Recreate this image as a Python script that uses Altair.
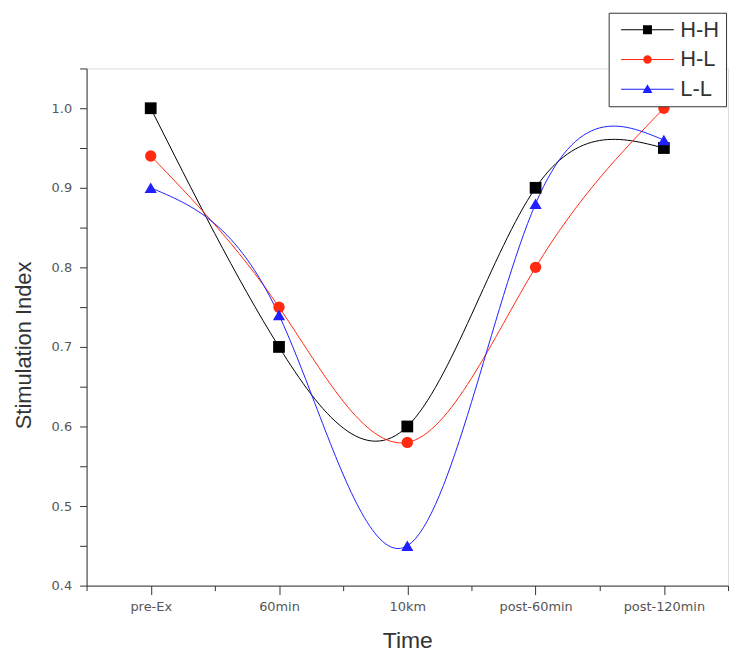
import altair as alt
import pandas as pd

times = ["pre-Ex", "60min", "10km", "post-60min", "post-120min"]
series = ["H-H", "H-L", "L-L"]
hh = [1.00, 0.70, 0.60, 0.90, 0.95]
hl = [0.94, 0.75, 0.58, 0.80, 1.00]
ll = [0.90, 0.74, 0.45, 0.88, 0.96]
colors = ["#000000", "#ff2a10", "#1f1fff"]
shapes = ["square", "circle", "triangle-up"]
sizes = [140, 130, 150]

rows = []
for name, vals in zip(series, [hh, hl, ll]):
    for i, (t, v) in enumerate(zip(times, vals)):
        rows.append({"series": name, "grp": name, "idx": i + 1, "time": t, "value": v})
df = pd.DataFrame(rows)

label_arr = "[" + ",".join("'%s'" % t for t in times) + "]"
x_ticks = [0.5 + 0.5 * k for k in range(11)]
y_ticks = [round(0.4 + 0.05 * k, 2) for k in range(14)]

# legend glyphs: a thin line with the marker on top (filled paths)
LINE = "M-5.3,-0.1H5.3V0.1H-5.3Z"
legend_shapes = [
    LINE + "M-0.9,-0.9H0.9V0.9H-0.9Z",
    LINE + "M0.85,0A0.85,0.85 0 1,1 -0.85,0A0.85,0.85 0 1,1 0.85,0Z",
    LINE + "M0,-1L1,0.75H-1Z",
]

x_enc = alt.X(
    "idx:Q",
    scale=alt.Scale(domain=[0.5, 5.5], nice=False, zero=False),
    axis=alt.Axis(
        values=x_ticks,
        labelExpr="datum.value % 1 == 0 ? " + label_arr + "[datum.value - 1] : ''",
        title="Time",
        titleFontSize=23,
        titleFontWeight="normal",
        titleFont="Liberation Sans",
        titleColor="#333333",
        titlePadding=16,
        labelFont="DejaVu Sans",
        labelFontSize=13,
        labelColor="#555555",
        labelPadding=6,
        labelOverlap=False,
        tickSize={"condition": {"test": "datum.value % 1 != 0", "value": 5}, "value": 9},
        tickColor="#333333",
        domainColor="#333333",
        grid=False,
    ),
)
y_enc = alt.Y(
    "value:Q",
    scale=alt.Scale(domain=[0.4, 1.05], nice=False, zero=False),
    axis=alt.Axis(
        values=y_ticks,
        labelExpr="(round(datum.value * 100) % 10 == 0) ? format(datum.value, '.1f') : ''",
        title="Stimulation Index",
        titleFontSize=22,
        titleFontWeight="normal",
        titleFont="Liberation Sans",
        titleColor="#333333",
        titlePadding=16,
        titleY=278,
        labelFont="DejaVu Sans",
        labelFontSize=13,
        labelColor="#555555",
        labelPadding=8,
        labelOverlap=False,
        tickSize=7,
        tickColor="#333333",
        domainColor="#333333",
        grid=False,
    ),
)

# plot layers: data-driven domains (sorted H-H, H-L, L-L), no legends
lines = alt.Chart(df).mark_line(interpolate="natural", strokeWidth=1).encode(
    x=x_enc,
    y=y_enc,
    stroke=alt.Stroke("grp:N", scale=alt.Scale(range=colors), legend=None),
    detail="grp:N",
)

point_layers = [
    alt.Chart(df)
    .transform_filter(alt.datum.grp == name)
    .mark_point(filled=True, size=sz, opacity=1, shape=shp, strokeWidth=0)
    .encode(
        x=x_enc,
        y=y_enc,
        fill=alt.Fill("grp:N", scale=alt.Scale(range=colors), legend=None),
    )
    for name, shp, sz in zip(series, shapes, sizes)
]

leg = dict(
    title=None,
    orient="none",
    legendX=525,
    legendY=-56,
    fillColor="white",
    strokeColor="#333333",
    padding=6,
    symbolSize=100,
    symbolStrokeWidth=0,
    symbolOffset=22,
    labelOffset=22,
    labelFont="Liberation Sans",
    labelFontSize=22,
    labelColor="#333333",
    rowPadding=8,
)

# legend-only layer: draws nothing (empty after filter), only provides the legend
legend_layer = (
    alt.Chart(df)
    .transform_filter(alt.datum.idx < 0)
    .mark_point(filled=True, size=100, opacity=1)
    .encode(
        x=x_enc,
        y=y_enc,
        color=alt.Color("series:N", scale=alt.Scale(domain=series, range=colors), legend=alt.Legend(**leg)),
        shape=alt.Shape(
            "series:N",
            scale=alt.Scale(domain=series, range=legend_shapes),
            legend=alt.Legend(**leg),
        ),
    )
)

chart = alt.layer(lines, *point_layers, legend_layer).properties(
    width=645,
    height=520,
    autosize=alt.AutoSizeParams(type="none"),
    padding={"left": 79, "top": 59, "right": 5, "bottom": 70},
).configure_view(stroke=None).configure(background="white")

chart.save("out.html", embed_options={"renderer": "svg", "actions": False})
